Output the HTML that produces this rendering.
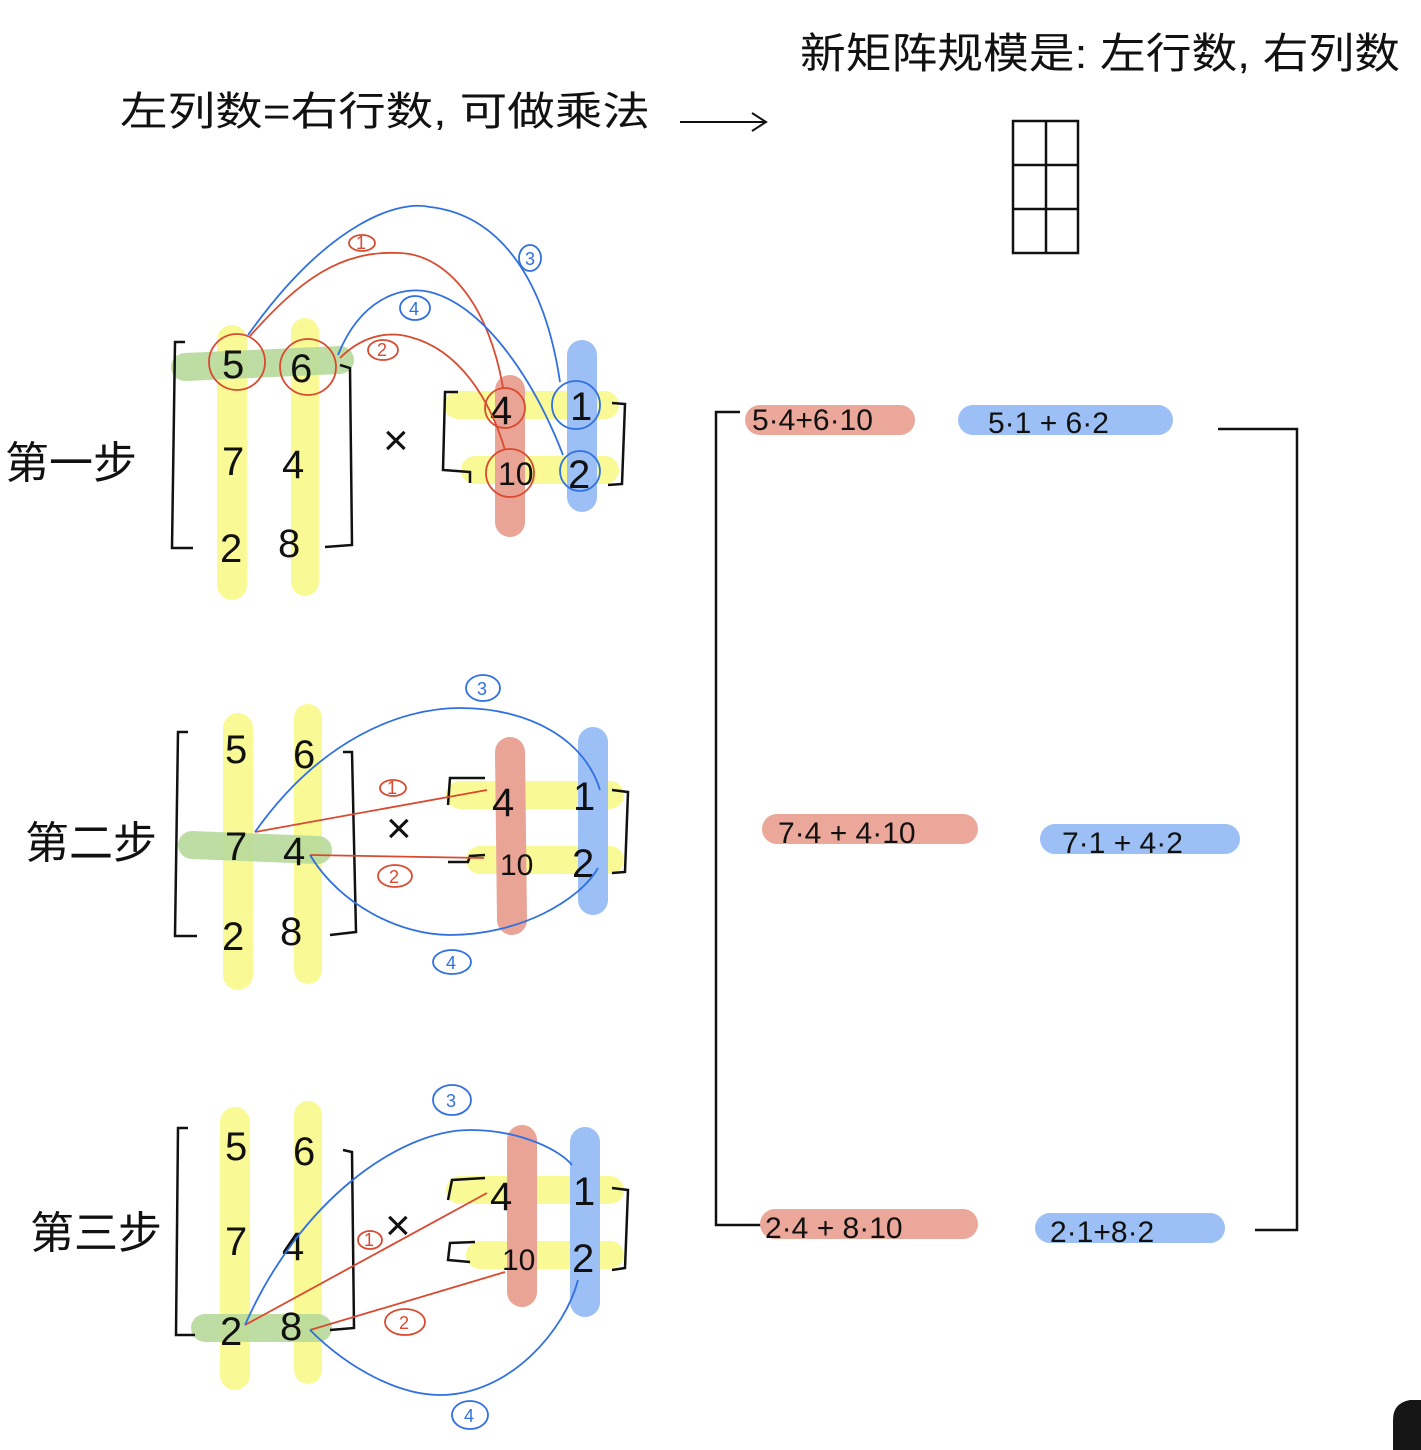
<!DOCTYPE html>
<html><head><meta charset="utf-8">
<style>
html,body{margin:0;padding:0;background:#fff;}
svg{display:block;}
text{font-family:"Liberation Sans","Noto Sans CJK SC",sans-serif;fill:#111;}
.n{font-size:40px;}
.yl{stroke:#f9f98a;stroke-linecap:round;opacity:.9}
.gr{stroke:#b8da9c;stroke-linecap:round;opacity:.9}
.rd{stroke:#e9a496;stroke-linecap:round}
.bl{stroke:#9cc0f6;stroke-linecap:round}
.br{fill:none;stroke:#111;stroke-width:2.5}
.rl{fill:none;stroke:#d94a30;stroke-width:1.8}
.bll{fill:none;stroke:#3070e0;stroke-width:1.8}
.lr{font-size:18px;fill:#d94a30}
.lb{font-size:18px;fill:#3070e0}
</style></head>
<body>
<svg width="1421" height="1450" viewBox="0 0 1421 1450">
<text x="120" y="125" font-size="40" textLength="530" lengthAdjust="spacingAndGlyphs">左列数=右行数, 可做乘法</text>
<g><line x1="680" y1="122" x2="765" y2="122" stroke="#111" stroke-width="2"/><path d="M752 113 L766 122 L752 131" fill="none" stroke="#111" stroke-width="2"/></g>
<text x="800" y="68" font-size="42" textLength="600" lengthAdjust="spacingAndGlyphs">新矩阵规模是: 左行数, 右列数</text>
<g fill="none" stroke="#111" stroke-width="2.5">
<rect x="1013" y="121" width="65" height="132"/><line x1="1046" y1="121" x2="1046" y2="253"/><line x1="1013" y1="165" x2="1078" y2="165"/><line x1="1013" y1="209" x2="1078" y2="209"/></g>

<text x="5" y="478" font-size="44">第一步</text>
<text x="25" y="858" font-size="44">第二步</text>
<text x="30" y="1248" font-size="44">第三步</text>

<g>
<line class="yl" x1="232" y1="340" x2="232" y2="585" stroke-width="30"/>
<line class="yl" x1="305" y1="332" x2="305" y2="582" stroke-width="28"/>
<line class="gr" x1="185" y1="367" x2="340" y2="360" stroke-width="28"/>
<line class="yl" x1="458" y1="405" x2="605" y2="405" stroke-width="28"/>
<line class="yl" x1="475" y1="470" x2="605" y2="470" stroke-width="28"/>
<line class="rd" x1="510" y1="390" x2="510" y2="522" stroke-width="30"/>
<line class="bl" x1="582" y1="355" x2="582" y2="497" stroke-width="30"/>
<path class="br" d="M185 342 L175 342 L172 548 L193 548"/>
<path class="br" d="M340 365 L350 368 L352 545 L325 547"/>
<path class="br" d="M458 392 L445 392 L443 470 L470 472 L470 483"/>
<path class="br" d="M612 403 L625 404 L622 484 L608 485"/>
<text class="n" x="222" y="378">5</text><text class="n" x="290" y="382">6</text>
<text class="n" x="222" y="475">7</text><text class="n" x="282" y="478">4</text>
<text class="n" x="220" y="562">2</text><text class="n" x="278" y="557">8</text>
<text x="383" y="455" font-size="44">×</text>
<text class="n" x="490" y="424">4</text><text class="n" x="570" y="420">1</text>
<text x="498" y="485" font-size="32">10</text><text class="n" x="568" y="488">2</text>
<circle cx="237" cy="362" r="28" class="rl"/><circle cx="308" cy="367" r="28" class="rl"/>
<circle cx="505" cy="408" r="20" class="rl"/><circle cx="510" cy="473" r="24" class="rl"/>
<circle cx="576" cy="405" r="24" class="bll"/><circle cx="580" cy="471" r="20" class="bll"/>
<path class="bll" d="M248 335 C330 220 400 200 430 207 C500 215 545 280 560 382"/>
<path class="rl" d="M250 336 C300 280 340 250 400 253 C450 255 490 310 503 388"/>
<path class="bll" d="M338 355 C360 300 400 285 430 292 C480 305 530 370 563 455"/>
<path class="rl" d="M340 358 C360 338 385 330 410 337 C460 350 490 400 505 450"/>
<ellipse cx="362" cy="243" rx="13" ry="8" class="rl"/><text class="lr" x="356" y="249">1</text>
<ellipse cx="530" cy="258" rx="11" ry="13" class="bll"/><text class="lb" x="525" y="265">3</text>
<ellipse cx="415" cy="308" rx="15" ry="12" class="bll"/><text class="lb" x="409" y="315">4</text>
<ellipse cx="383" cy="350" rx="15" ry="10" class="rl"/><text class="lr" x="377" y="356">2</text>
</g>

<g>
<line class="yl" x1="238" y1="728" x2="238" y2="975" stroke-width="30"/>
<line class="yl" x1="308" y1="718" x2="308" y2="970" stroke-width="28"/>
<line class="gr" x1="192" y1="845" x2="318" y2="850" stroke-width="28"/>
<line class="yl" x1="460" y1="795" x2="610" y2="795" stroke-width="28"/>
<line class="yl" x1="480" y1="860" x2="610" y2="860" stroke-width="28"/>
<line class="rd" x1="510" y1="752" x2="512" y2="920" stroke-width="30"/>
<line class="bl" x1="593" y1="742" x2="593" y2="900" stroke-width="30"/>
<path class="br" d="M188 732 L178 732 L175 936 L197 936"/>
<path class="br" d="M343 752 L352 752 L356 932 L330 935"/>
<path class="br" d="M485 778 L450 778 L448 805"/>
<path class="br" d="M485 855 L470 856 L468 862 L448 862"/>
<path class="br" d="M612 790 L628 792 L625 872 L612 873"/>
<text class="n" x="225" y="763">5</text><text class="n" x="293" y="768">6</text>
<text class="n" x="225" y="860">7</text><text class="n" x="283" y="865">4</text>
<text class="n" x="222" y="950">2</text><text class="n" x="280" y="945">8</text>
<text x="386" y="843" font-size="44">×</text>
<text class="n" x="492" y="816">4</text><text class="n" x="573" y="810">1</text>
<text x="500" y="875" font-size="30">10</text><text class="n" x="572" y="877">2</text>
<line class="rl" x1="255" y1="832" x2="487" y2="790"/>
<line class="rl" x1="310" y1="855" x2="484" y2="858"/>
<path class="bll" d="M255 832 C320 740 400 708 460 708 C530 708 585 740 600 790"/>
<path class="bll" d="M310 855 C340 905 400 935 450 935 C520 935 580 900 598 868"/>
<ellipse cx="483" cy="688" rx="17" ry="13" class="bll"/><text class="lb" x="477" y="695">3</text>
<ellipse cx="393" cy="788" rx="13" ry="8" class="rl"/><text class="lr" x="387" y="794">1</text>
<ellipse cx="395" cy="876" rx="17" ry="11" class="rl"/><text class="lr" x="389" y="883">2</text>
<ellipse cx="452" cy="962" rx="19" ry="12" class="bll"/><text class="lb" x="446" y="969">4</text>
</g>

<g>
<line class="yl" x1="235" y1="1122" x2="235" y2="1375" stroke-width="30"/>
<line class="yl" x1="308" y1="1115" x2="308" y2="1370" stroke-width="28"/>
<line class="gr" x1="205" y1="1328" x2="318" y2="1328" stroke-width="28"/>
<line class="yl" x1="460" y1="1190" x2="610" y2="1190" stroke-width="28"/>
<line class="yl" x1="480" y1="1255" x2="610" y2="1255" stroke-width="28"/>
<line class="rd" x1="522" y1="1140" x2="522" y2="1292" stroke-width="30"/>
<line class="bl" x1="585" y1="1142" x2="585" y2="1302" stroke-width="30"/>
<path class="br" d="M188 1128 L178 1128 L176 1335 L195 1335"/>
<path class="br" d="M343 1150 L352 1152 L354 1328 L330 1330"/>
<path class="br" d="M485 1178 L452 1180 L448 1200"/>
<path class="br" d="M475 1242 L450 1243 L448 1260 L470 1262"/>
<path class="br" d="M612 1188 L628 1190 L625 1268 L612 1270"/>
<text class="n" x="225" y="1160">5</text><text class="n" x="293" y="1165">6</text>
<text class="n" x="225" y="1255">7</text><text class="n" x="282" y="1260">4</text>
<text class="n" x="220" y="1345">2</text><text class="n" x="280" y="1340">8</text>
<text x="385" y="1240" font-size="44">×</text>
<text class="n" x="490" y="1210">4</text><text class="n" x="573" y="1205">1</text>
<text x="502" y="1270" font-size="30">10</text><text class="n" x="572" y="1272">2</text>
<line class="rl" x1="245" y1="1325" x2="487" y2="1193"/>
<line class="rl" x1="310" y1="1330" x2="505" y2="1272"/>
<path class="bll" d="M245 1325 C300 1200 400 1130 470 1130 C520 1130 560 1150 572 1165"/>
<path class="bll" d="M310 1330 C350 1370 400 1395 440 1395 C510 1395 565 1330 578 1280"/>
<ellipse cx="452" cy="1100" rx="19" ry="15" class="bll"/><text class="lb" x="446" y="1107">3</text>
<ellipse cx="370" cy="1240" rx="12" ry="9" class="rl"/><text class="lr" x="364" y="1246">1</text>
<ellipse cx="405" cy="1322" rx="20" ry="13" class="rl"/><text class="lr" x="399" y="1329">2</text>
<ellipse cx="470" cy="1415" rx="18" ry="14" class="bll"/><text class="lb" x="464" y="1422">4</text>
</g>

<g>
<path class="br" d="M740 412 L716 412 L716 1225 L765 1225" stroke-width="2"/>
<path class="br" d="M1218 429 L1297 429 L1297 1230 L1255 1230" stroke-width="2"/>
<rect x="745" y="405" width="170" height="30" rx="15" fill="#eaa79a"/>
<text x="752" y="430" font-size="30">5·4+6·10</text>
<rect x="958" y="405" width="215" height="30" rx="15" fill="#9cc0f6"/>
<text x="988" y="433" font-size="30">5·1 + 6·2</text>
<rect x="762" y="814" width="216" height="30" rx="15" fill="#eaa79a"/>
<text x="778" y="843" font-size="30">7·4 + 4·10</text>
<rect x="1040" y="824" width="200" height="30" rx="15" fill="#9cc0f6"/>
<text x="1062" y="853" font-size="30">7·1 + 4·2</text>
<rect x="760" y="1209" width="218" height="30" rx="15" fill="#eaa79a"/>
<text x="765" y="1238" font-size="30">2·4 + 8·10</text>
<rect x="1035" y="1213" width="190" height="30" rx="15" fill="#9cc0f6"/>
<text x="1050" y="1242" font-size="30">2·1+8·2</text>
</g>
<path d="M1421 1400 L1410 1400 Q1393 1403 1393 1420 L1393 1450 L1421 1450 Z" fill="#151515"/>
</svg>
</body></html>
